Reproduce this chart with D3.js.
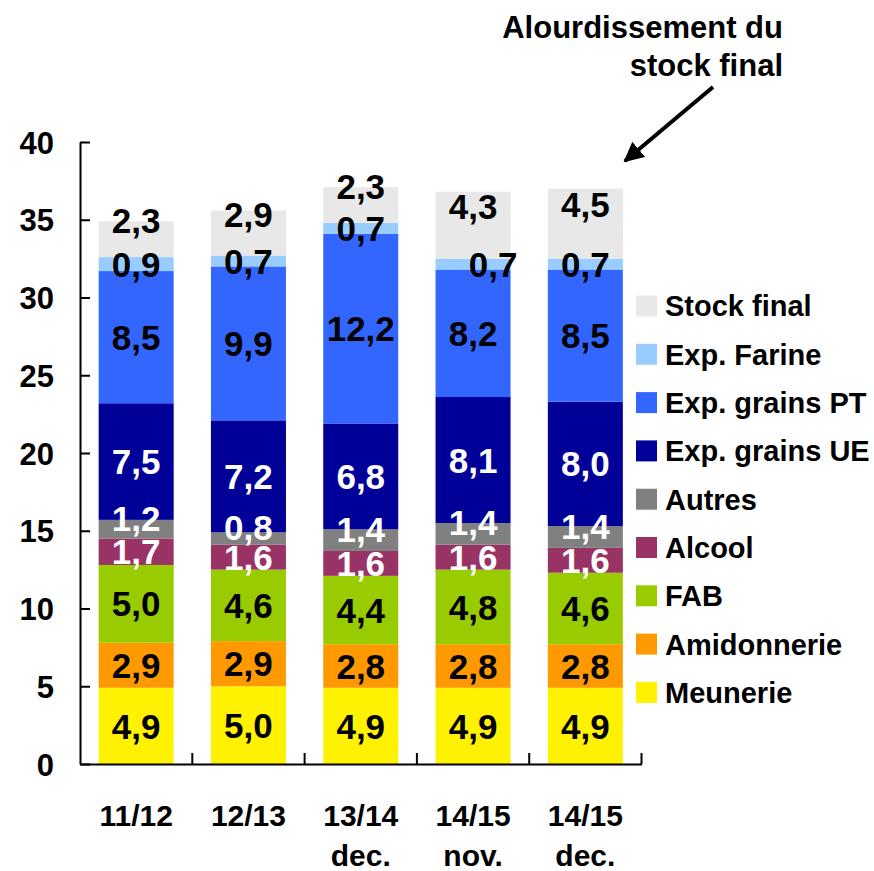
<!DOCTYPE html>
<html>
<head>
<meta charset="utf-8">
<script src="https://cdn.jsdelivr.net/npm/d3@7"></script>
<style>
  html, body { margin: 0; padding: 0; background: #fff; }
  svg { display: block; font-family: "Liberation Sans", Arial, sans-serif; font-weight: bold; }
</style>
</head>
<body>
<svg id="chart" width="874" height="871"></svg>
<script>
// Campaigns (second line of each label after the space)
const categories = ["11/12", "12/13", "13/14 dec.", "14/15 nov.", "14/15 dec."];

// Uses of wheat, Mt, stacked bottom to top
const meunerie    = [4.9, 5.0, 4.9, 4.9, 4.9];
const amidonnerie = [2.9, 2.9, 2.8, 2.8, 2.8];
const fab         = [5.0, 4.6, 4.4, 4.8, 4.6];
const alcool      = [1.7, 1.6, 1.6, 1.6, 1.6];
const autres      = [1.2, 0.8, 1.4, 1.4, 1.4];
const expGrainsUE = [7.5, 7.2, 6.8, 8.1, 8.0];
const expGrainsPT = [8.5, 9.9, 12.2, 8.2, 8.5];
const expFarine   = [0.9, 0.7, 0.7, 0.7, 0.7];
const stockFinal  = [2.3, 2.9, 2.3, 4.3, 4.5];

const seriesNames = ["Meunerie", "Amidonnerie", "FAB", "Alcool", "Autres",
                     "Exp. grains UE", "Exp. grains PT", "Exp. Farine", "Stock final"];
const seriesValues = [meunerie, amidonnerie, fab, alcool, autres,
                      expGrainsUE, expGrainsPT, expFarine, stockFinal];

const yTicks = [0, 5, 10, 15, 20, 25, 30, 35, 40];

const annotationLines = ["Alourdissement du", "stock final"];

// ---- styling -------------------------------------------------------------
const fills = {
  "Meunerie": "#FFF200", "Amidonnerie": "#FF9900", "FAB": "#99CC00",
  "Alcool": "#993366", "Autres": "#808080", "Exp. grains UE": "#000099",
  "Exp. grains PT": "#3366FF", "Exp. Farine": "#99CCFF", "Stock final": "#E8E8E8"
};
const whiteText = new Set(["Alcool", "Autres", "Exp. grains UE"]);
// vertical shift of value labels for the thin / top segments
const labelDy = { "Stock final": -19, "Autres": -11 };
const labelDx = { "Exp. Farine|14/15 nov.": 20 };

// ---- table for the stack --------------------------------------------------
const table = categories.map((c, i) => {
  const row = { category: c };
  seriesNames.forEach((s, k) => { row[s] = seriesValues[k][i]; });
  return row;
});
const stacked = d3.stack().keys(seriesNames)(table);

// ---- scales -----------------------------------------------------------------
const plotLeft = 80, plotRight = 641.5, plotBottom = 764, plotTop = 142;
const x = d3.scaleBand().domain(categories).range([plotLeft, plotRight])
  .paddingInner(0.332).paddingOuter(0.166);
const y = d3.scaleLinear().domain([0, 40]).range([plotBottom, plotTop]);

const svg = d3.select("#chart");
const fmt = v => d3.format(".1f")(v).replace(".", ",");

// ---- bars -------------------------------------------------------------------
const layers = svg.append("g").selectAll("g").data(stacked).join("g")
  .attr("fill", d => fills[d.key]);
layers.selectAll("rect").data(d => d).join("rect")
  .attr("x", d => x(d.data.category))
  .attr("width", x.bandwidth())
  .attr("y", d => y(d[1]))
  .attr("height", d => y(d[0]) - y(d[1]));

// ---- value labels -------------------------------------------------------------
const labels = svg.append("g").attr("text-anchor", "middle").attr("font-size", 35);
stacked.forEach(layer => {
  labels.selectAll(null).data(layer).join("text")
    .attr("x", d => x(d.data.category) + x.bandwidth() / 2 + (labelDx[layer.key + "|" + d.data.category] || 0))
    .attr("y", d => (y(d[0]) + y(d[1])) / 2 + (labelDy[layer.key] || 0))
    .attr("dy", "0.36em")
    .attr("fill", whiteText.has(layer.key) ? "#fff" : "#000")
    .text(d => fmt(d[1] - d[0]));
});

// ---- y axis -----------------------------------------------------------------
const yAxis = svg.append("g").attr("transform", `translate(${plotLeft},0)`)
  .call(d3.axisLeft(y).tickValues(yTicks).tickFormat(d3.format("d"))
    .tickSizeInner(-10).tickSizeOuter(0).tickPadding(26));
yAxis.select(".domain").attr("stroke", "#000").attr("stroke-width", 2);
yAxis.selectAll(".tick line").attr("stroke", "#000").attr("stroke-width", 2);
yAxis.selectAll(".tick text").attr("font-size", 31).attr("font-family", null)
  .attr("font-weight", "bold").attr("fill", "#000").attr("dy", "0.36em");

// ---- x axis -----------------------------------------------------------------
const xAxis = svg.append("g").attr("transform", `translate(0,${plotBottom})`)
  .call(d3.axisBottom(x).tickSize(0).tickPadding(0));
xAxis.select(".domain").attr("stroke", "#000").attr("stroke-width", 2);
xAxis.selectAll(".tick text").each(function (d) {
  const t = d3.select(this).text(null).attr("font-size", 30).attr("font-family", null)
    .attr("font-weight", "bold").attr("fill", "#000").attr("y", 0).attr("dy", null);
  d.split(" ").forEach((line, i) => {
    t.append("tspan").attr("x", 0).attr("y", 62 + i * 40).text(line);
  });
});
// tick marks between campaigns
const bounds = d3.range(categories.length + 1).map(i => plotLeft + i * x.step());
xAxis.selectAll(".bound").data(bounds.slice(1)).join("line")
  .attr("x1", d => d).attr("x2", d => d).attr("y1", 0).attr("y2", -11)
  .attr("stroke", "#000").attr("stroke-width", 2);

// ---- legend -----------------------------------------------------------------
const legendItems = seriesNames.slice().reverse();
const legend = svg.append("g").attr("transform", "translate(636,306)");
const li = legend.selectAll("g").data(legendItems).join("g")
  .attr("transform", (d, i) => `translate(0,${i * 48.3})`);
li.append("rect").attr("x", 0).attr("y", -10.5).attr("width", 21).attr("height", 21)
  .attr("fill", d => fills[d]);
li.append("text").attr("x", 29).attr("dy", "0.36em").attr("font-size", 29)
  .attr("fill", "#000").text(d => d);

// ---- annotation -------------------------------------------------------------
const ann = svg.append("g").attr("text-anchor", "end").attr("font-size", 31);
ann.selectAll("text").data(annotationLines).join("text")
  .attr("x", 783).attr("y", (d, i) => 38 + i * 38).text(d => d);

svg.append("defs").append("marker").attr("id", "arrowhead")
  .attr("viewBox", "0 0 10 10").attr("refX", 9).attr("refY", 5)
  .attr("markerWidth", 5).attr("markerHeight", 5).attr("orient", "auto")
  .attr("markerUnits", "strokeWidth")
  .append("path").attr("d", "M0,0 L10,5 L0,10 Z").attr("fill", "#000");
svg.append("line").attr("x1", 713).attr("y1", 87).attr("x2", 625).attr("y2", 161)
  .attr("stroke", "#000").attr("stroke-width", 4).attr("marker-end", "url(#arrowhead)");
</script>
</body>
</html>
